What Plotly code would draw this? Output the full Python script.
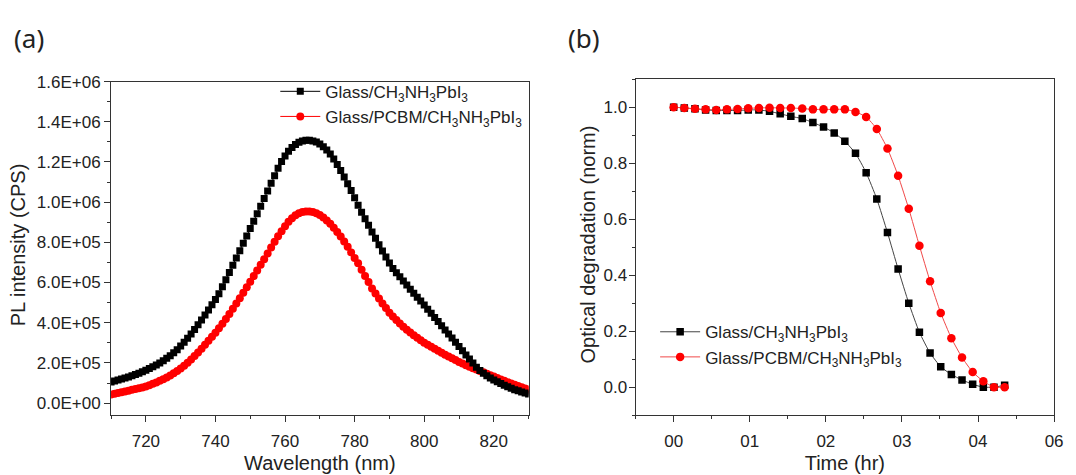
import plotly.graph_objects as go

# ---------------- Panel (a) data: PL spectra (intensity in units of 1E+05 CPS) ----------------
WAVELENGTH = list(range(710, 831))
PL_GLASS = [
    1.05, 1.10, 1.15, 1.20, 1.25, 1.30, 1.36, 1.42, 1.49, 1.56,
    1.64, 1.72, 1.81, 1.90, 2.00, 2.11, 2.23, 2.36, 2.50, 2.66,
    2.84, 3.03, 3.23, 3.44, 3.66, 3.90, 4.13, 4.38, 4.63, 4.89,
    5.15, 5.44, 5.79, 6.14, 6.50, 6.86, 7.22, 7.58, 7.95, 8.32,
    8.69, 9.05, 9.42, 9.80, 10.18, 10.56, 10.94, 11.32, 11.69, 12.02,
    12.30, 12.54, 12.72, 12.87, 12.98, 13.05, 13.08, 13.08, 13.05, 12.99,
    12.90, 12.76, 12.60, 12.40, 12.15, 11.87, 11.57, 11.25, 10.92, 10.58,
    10.22, 9.85, 9.50, 9.17, 8.85, 8.52, 8.20, 7.88, 7.57, 7.27,
    6.97, 6.70, 6.49, 6.29, 6.08, 5.88, 5.67, 5.47, 5.27, 5.08,
    4.88, 4.67, 4.47, 4.26, 4.06, 3.85, 3.64, 3.44, 3.24, 3.03,
    2.82, 2.61, 2.40, 2.20, 1.99, 1.78, 1.62, 1.48, 1.36, 1.25,
    1.15, 1.06, 0.97, 0.89, 0.81, 0.74, 0.67, 0.61, 0.55, 0.50, 0.45,
]
PL_PCBM = [
    0.43, 0.46, 0.50, 0.54, 0.58, 0.62, 0.66, 0.70, 0.74, 0.78,
    0.83, 0.89, 0.96, 1.03, 1.11, 1.19, 1.28, 1.38, 1.49, 1.60,
    1.72, 1.86, 2.01, 2.17, 2.34, 2.52, 2.71, 2.90, 3.10, 3.30,
    3.50, 3.72, 3.95, 4.19, 4.44, 4.70, 4.96, 5.22, 5.49, 5.76,
    6.04, 6.32, 6.60, 6.88, 7.16, 7.45, 7.75, 8.03, 8.30, 8.55,
    8.80, 9.02, 9.20, 9.35, 9.45, 9.51, 9.54, 9.54, 9.51, 9.45,
    9.36, 9.24, 9.09, 8.92, 8.73, 8.52, 8.29, 8.04, 7.78, 7.50,
    7.22, 6.96, 6.64, 6.33, 6.03, 5.70, 5.45, 5.20, 4.96, 4.73,
    4.50, 4.31, 4.13, 3.96, 3.80, 3.65, 3.51, 3.38, 3.25, 3.13,
    3.00, 2.90, 2.80, 2.70, 2.60, 2.50, 2.41, 2.32, 2.23, 2.14,
    2.05, 1.97, 1.89, 1.81, 1.74, 1.67, 1.60, 1.53, 1.46, 1.39,
    1.32, 1.25, 1.18, 1.11, 1.04, 0.97, 0.91, 0.85, 0.79, 0.73, 0.68,
]
PL_TICKVALS = [0, 2, 4, 6, 8, 10, 12, 14, 16]
PL_TICKTEXT = ["0.0E+00", "2.0E+05", "4.0E+05", "6.0E+05", "8.0E+05",
               "1.0E+06", "1.2E+06", "1.4E+06", "1.6E+06"]
WL_TICKVALS = [720, 740, 760, 780, 800, 820]

# ---------------- Panel (b) data: optical degradation ----------------
TIME_HR = [0.00, 0.14, 0.28, 0.42, 0.56, 0.70, 0.84, 0.98, 1.12, 1.26,
           1.40, 1.54, 1.69, 1.83, 1.97, 2.11, 2.25, 2.39, 2.53, 2.67,
           2.81, 2.95, 3.09, 3.23, 3.37, 3.51, 3.65, 3.79, 3.93, 4.07,
           4.21, 4.35]
DEG_GLASS = [1.000, 0.997, 0.994, 0.990, 0.988, 0.988, 0.988, 0.990, 0.990, 0.985,
             0.976, 0.967, 0.959, 0.945, 0.929, 0.908, 0.878, 0.835, 0.766, 0.672,
             0.552, 0.422, 0.300, 0.196, 0.122, 0.073, 0.045, 0.026, 0.010, 0.000,
             0.000, 0.007]
DEG_PCBM = [1.000, 0.997, 0.994, 0.992, 0.990, 0.992, 0.993, 0.996, 0.997, 0.998,
            0.997, 0.997, 0.995, 0.992, 0.992, 0.992, 0.992, 0.983, 0.965, 0.922,
            0.852, 0.755, 0.637, 0.505, 0.378, 0.265, 0.175, 0.106, 0.054, 0.021,
            0.000, 0.000]
T_TICKVALS = [0, 1, 2, 3, 4, 5]
T_TICKTEXT = ["00", "01", "02", "03", "04", "06"]
D_TICKVALS = [0.0, 0.2, 0.4, 0.6, 0.8, 1.0]

LBL_GLASS = "Glass/CH<sub>3</sub>NH<sub>3</sub>PbI<sub>3</sub>"
LBL_PCBM = "Glass/PCBM/CH<sub>3</sub>NH<sub>3</sub>PbI<sub>3</sub>"

FONT = "Liberation Sans, Arial, sans-serif"
TXT = "#222222"
AX = "#333333"

fig = go.Figure()

# Panel (a)
fig.add_trace(go.Scatter(
    x=WAVELENGTH, y=PL_PCBM, mode="lines+markers", name=LBL_PCBM,
    line=dict(color="#ff0000", width=1),
    marker=dict(symbol="circle", size=8, color="#ff0000", line=dict(width=0)),
    xaxis="x", yaxis="y", legend="legend", legendrank=2))
fig.add_trace(go.Scatter(
    x=WAVELENGTH, y=PL_GLASS, mode="lines+markers", name=LBL_GLASS,
    line=dict(color="#000000", width=1),
    marker=dict(symbol="square", size=7, color="#000000", line=dict(width=0)),
    xaxis="x", yaxis="y", legend="legend", legendrank=1))

# Panel (b)
fig.add_trace(go.Scatter(
    x=TIME_HR, y=DEG_GLASS, mode="lines+markers", name=LBL_GLASS,
    line=dict(color="#444444", width=1, shape="spline", smoothing=0.5),
    marker=dict(symbol="square", size=7.5, color="#000000", line=dict(width=0)),
    xaxis="x2", yaxis="y2", legend="legend2", legendrank=1))
fig.add_trace(go.Scatter(
    x=TIME_HR, y=DEG_PCBM, mode="lines+markers", name=LBL_PCBM,
    line=dict(color="#f04848", width=1, shape="spline", smoothing=0.5),
    marker=dict(symbol="circle", size=8.5, color="#ff0000", line=dict(width=0)),
    xaxis="x2", yaxis="y2", legend="legend2", legendrank=2))

common_axis = dict(
    showline=True, linecolor=AX, linewidth=1, mirror=True,
    ticks="outside", ticklen=6, tickwidth=1, tickcolor=AX,
    showgrid=False, zeroline=False,
    tickfont=dict(family=FONT, size=17, color=TXT),
    title_font=dict(family=FONT, size=20, color=TXT),
)

TITLE_FONT = dict(family=FONT, size=20, color=TXT)

fig.update_layout(
    width=1076, height=475, autosize=False,
    margin=dict(l=0, r=0, t=0, b=0),
    paper_bgcolor="white", plot_bgcolor="white",
    font=dict(family=FONT, color=TXT),
    xaxis=dict(domain=[0.1041, 0.4954], anchor="y", range=[710, 830],
               tickvals=WL_TICKVALS, ticklabelstandoff=4,
               minor=dict(dtick=10, ticklen=3, ticks="outside", tickcolor=AX),
               title=dict(text="Wavelength (nm)", standoff=6), **common_axis),
    yaxis=dict(domain=[0.1284, 0.8442], anchor="x", range=[-0.6, 16],
               tickvals=PL_TICKVALS, ticktext=PL_TICKTEXT, ticklabelstandoff=0,
               minor=dict(dtick=1, ticklen=3, ticks="outside", tickcolor=AX),
               **common_axis),
    xaxis2=dict(domain=[0.5957, 0.9879], anchor="y2", range=[-0.5, 5.0],
                tickvals=T_TICKVALS, ticktext=T_TICKTEXT, ticklabelstandoff=4,
                minor=dict(dtick=0.5, ticklen=3, ticks="outside", tickcolor=AX),
                title=dict(text="Time (hr)", standoff=6), **common_axis),
    yaxis2=dict(domain=[0.1284, 0.8495], anchor="x2", range=[-0.1, 1.1],
                tickvals=D_TICKVALS, tickformat=".1f", ticklabelstandoff=-2,
                minor=dict(dtick=0.1, ticklen=3, ticks="outside", tickcolor=AX),
                **common_axis),
    legend=dict(x=0.258, y=0.861, xanchor="left", yanchor="top",
                bgcolor="rgba(0,0,0,0)", borderwidth=0,
                font=dict(family=FONT, size=17, color=TXT),
                tracegroupgap=0, itemwidth=40),
    legend2=dict(x=0.614, y=0.345, xanchor="left", yanchor="top",
                 bgcolor="rgba(0,0,0,0)", borderwidth=0,
                 font=dict(family=FONT, size=17, color=TXT),
                 tracegroupgap=0, itemwidth=40),
    showlegend=True,
    annotations=[
        dict(text="PL intensity (CPS)", x=19 / 1076, y=1 - 240 / 475,
             xref="paper", yref="paper", xanchor="center", yanchor="middle",
             textangle=-90, showarrow=False, font=TITLE_FONT),
        dict(text="Optical degradation (norm)", x=593 / 1076, y=1 - 240 / 475,
             xref="paper", yref="paper", xanchor="center", yanchor="middle",
             textangle=-90, showarrow=False, font=TITLE_FONT),
        dict(text="(a)", x=12 / 1076, y=1 - 30 / 475, xref="paper", yref="paper",
             xanchor="left", yanchor="middle", showarrow=False,
             font=dict(family="Noto Sans, Open Sans, sans-serif", size=26, color=TXT)),
        dict(text="(b)", x=571 / 1076, y=1 - 30 / 475, xref="paper", yref="paper",
             xanchor="left", yanchor="middle", showarrow=False,
             font=dict(family="Noto Sans, Open Sans, sans-serif", size=26, color=TXT)),
    ],
)

fig.write_html("out.html")
